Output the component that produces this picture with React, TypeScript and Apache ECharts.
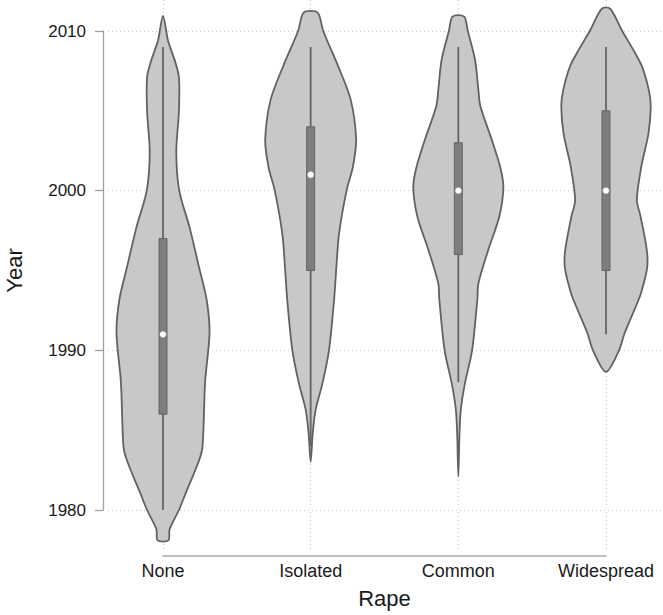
import React, { useEffect, useRef } from "react";
import * as echarts from "echarts";

const categories = ["None", "Isolated", "Common", "Widespread"];
const yTicks = [1980, 1990, 2000, 2010];

// box statistics (years)
const q1 = [1986, 1995, 1996, 1995];
const median = [1991, 2001, 2000, 2000];
const q3 = [1997, 2004, 2003, 2005];
const whiskerLow = [1980, 1984, 1988, 1991];
const whiskerHigh = [2009, 2009, 2009, 2009];

// violin profiles: [year, half width in category units], top to bottom
const violinNone = [
  [2010.94, 0], [2009.4, 0.034], [2008.0, 0.085], [2007.1, 0.108], [2005.0, 0.108],
  [2002.4, 0.09], [2000.0, 0.11], [1997.7, 0.18], [1995.2, 0.244], [1993.2, 0.295],
  [1991.1, 0.315], [1988.0, 0.285], [1984.0, 0.268], [1983.1, 0.244], [1981.1, 0.156],
  [1980.0, 0.108], [1978.8, 0.045], [1978.1, 0.037],
];
const violinIsolated = [
  [2011.15, 0.047], [2010.0, 0.085], [2007.8, 0.186], [2005.7, 0.271], [2003.2, 0.308],
  [2001.5, 0.286], [2000.0, 0.243], [1997.3, 0.192], [1995.2, 0.174], [1993.2, 0.159],
  [1990.0, 0.124], [1987.9, 0.079], [1986.3, 0.034], [1984.8, 0.014], [1983.0, 0],
];
const violinCommon = [
  [2010.9, 0.039], [2010.0, 0.064], [2008.2, 0.113], [2006.3, 0.136], [2005.3, 0.149],
  [2003.2, 0.226], [2001.5, 0.283], [2000.25, 0.305], [1998.4, 0.278], [1996.3, 0.203],
  [1994.2, 0.136], [1993.2, 0.129], [1990.0, 0.093], [1987.9, 0.044], [1986.3, 0.017],
  [1984.8, 0.008], [1982.1, 0],
];
const violinWidespread = [
  [2011.4, 0.028], [2010.0, 0.11], [2008.8, 0.186], [2007.8, 0.243], [2006.3, 0.29],
  [2005.3, 0.303], [2003.6, 0.288], [2001.5, 0.239], [1999.4, 0.209], [1998.4, 0.234],
  [1996.3, 0.276], [1995.2, 0.279], [1993.8, 0.244], [1993.15, 0.22], [1991.1, 0.127],
  [1990.0, 0.088], [1988.65, 0],
];
const profiles = [violinNone, violinIsolated, violinCommon, violinWidespread];

const FONT = "'Liberation Sans', Arial, sans-serif";
const OUTLINE = "#626262";

export default function App() {
  const ref = useRef<HTMLDivElement>(null);
  useEffect(() => {
    document.body.style.margin = "0";
    if (!ref.current) return;
    const chart = echarts.init(ref.current, undefined, { renderer: "svg" });
    const gridLine = { show: true, lineStyle: { color: "#c4c4c4", type: [1, 3] as any, width: 1 } };
    chart.setOption({
      animation: false,
      backgroundColor: "#ffffff",
      grid: [
        { left: 163, right: 57, top: 31, height: 479, containLabel: false, outerBoundsMode: "none" },
        { left: 108, right: 0, top: 31, height: 479, containLabel: false, outerBoundsMode: "none" },
        { left: 163, right: 57, top: 0, height: 550, containLabel: false, outerBoundsMode: "none" },
      ],
      xAxis: [
        {
          gridIndex: 0,
          type: "category",
          data: categories,
          boundaryGap: false,
          position: "bottom",
          offset: 46,
          axisLine: { show: true, onZero: false, lineStyle: { color: "#a8a8a8", width: 1.5 } },
          axisTick: { show: false },
          axisLabel: { margin: 6, fontSize: 18, color: "#1a1a1a", fontFamily: FONT },
          splitLine: { show: false },
          name: "Rape",
          nameLocation: "middle",
          nameGap: 31,
          nameTextStyle: { fontSize: 22, color: "#1a1a1a", fontFamily: FONT },
        },
        { gridIndex: 1, type: "value", show: false, min: 0, max: 1 },
        {
          gridIndex: 2,
          type: "category",
          data: categories,
          boundaryGap: false,
          axisLine: { show: false },
          axisTick: { show: false },
          axisLabel: { show: false },
          splitLine: gridLine,
        },
      ],
      yAxis: [
        {
          gridIndex: 0,
          type: "value",
          position: "left",
          min: yTicks[0],
          max: yTicks[yTicks.length - 1],
          interval: 10,
          offset: 60,
          axisLine: { show: true, onZero: false, lineStyle: { color: "#a0a0a0", width: 1.3 } },
          axisTick: { show: true, length: 8, lineStyle: { color: "#a0a0a0", width: 1.3 } },
          axisLabel: {
            margin: 17,
            fontSize: 17,
            color: "#1a1a1a",
            fontFamily: FONT,
            formatter: (v: number) => String(v),
          },
          splitLine: { show: false },
          name: "Year",
          nameLocation: "middle",
          nameGap: 78,
          nameRotate: 90,
          nameTextStyle: { fontSize: 22, color: "#1a1a1a", fontFamily: FONT },
        },
        {
          gridIndex: 1,
          type: "value",
          min: yTicks[0],
          max: yTicks[yTicks.length - 1],
          interval: 10,
          axisLine: { show: false },
          axisTick: { show: false },
          axisLabel: { show: false },
          splitLine: gridLine,
        },
        { gridIndex: 2, type: "value", show: false, min: 0, max: 1 },
      ],
      series: [
        {
          type: "custom",
          xAxisIndex: 0,
          yAxisIndex: 0,
          clip: false,
          z: 5,
          data: categories.map((_, i) => [i, median[i]]),
          renderItem: (params: any, api: any) => {
            const i = params.dataIndex;
            const cx = api.coord([i, 2000])[0];
            const unit = api.coord([1, 2000])[0] - api.coord([0, 2000])[0];
            const prof = profiles[i];
            const right = prof.map(([yr, w]) => [cx + w * unit, api.coord([i, yr])[1]]);
            const leftSrc = prof.slice().reverse();
            const left: number[][] = [];
            leftSrc.forEach(([yr, w], k) => {
              if (w === 0 && (k === 0 || k === leftSrc.length - 1)) return;
              left.push([cx - w * unit, api.coord([i, yr])[1]]);
            });
            const points = right.concat(left);
            const yq1 = api.coord([i, q1[i]])[1];
            const yq3 = api.coord([i, q3[i]])[1];
            const ymed = api.coord([i, median[i]])[1];
            const ylo = api.coord([i, whiskerLow[i]])[1];
            const yhi = api.coord([i, whiskerHigh[i]])[1];
            return {
              type: "group",
              children: [
                {
                  type: "polygon",
                  shape: { points, smooth: 0.3 },
                  style: { fill: "#c8c8c8", stroke: OUTLINE, lineWidth: 1.8 },
                },
                {
                  type: "line",
                  shape: { x1: cx, y1: yhi, x2: cx, y2: ylo },
                  style: { stroke: "#646464", lineWidth: 1.8 },
                },
                {
                  type: "rect",
                  shape: { x: cx - 4, y: yq3, width: 8, height: yq1 - yq3 },
                  style: { fill: "#7e7e7e", stroke: "#646464", lineWidth: 1 },
                },
                {
                  type: "circle",
                  shape: { cx, cy: ymed, r: 3.4 },
                  style: { fill: "#ffffff", stroke: "#7e7e7e", lineWidth: 0.5 },
                },
              ],
            };
          },
        },
      ],
    });
    return () => chart.dispose();
  }, []);
  return <div ref={ref} style={{ width: 663, height: 615 }} />;
}
